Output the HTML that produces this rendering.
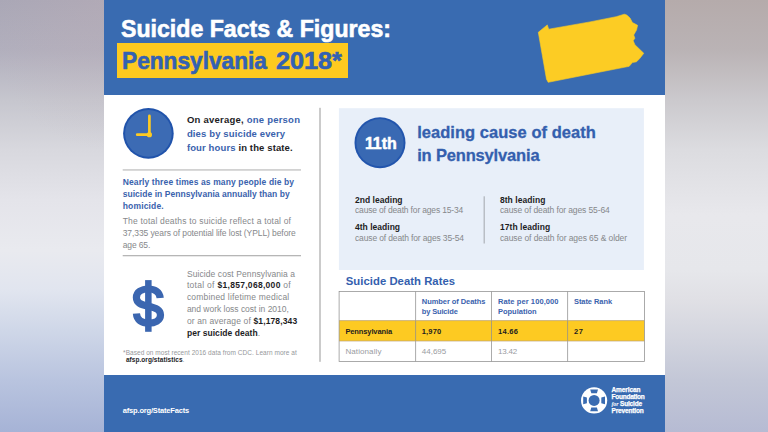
<!DOCTYPE html>
<html><head><meta charset="utf-8">
<style>
*{margin:0;padding:0;box-sizing:border-box}
html,body{width:768px;height:432px;overflow:hidden}
body{font-family:"Liberation Sans",sans-serif;position:relative;background:#dcdde2}
.bgl{position:absolute;left:0;top:0;width:104px;height:432px;background:radial-gradient(ellipse 120px 150px at 100% 0%,rgba(196,176,182,.30),rgba(196,176,182,0) 100%),linear-gradient(180deg,#a9a7b6 0.0px,#b1afbd 50.0px,#c6c6ce 100.0px,#d8d8de 150.0px,#e4e4ea 200.0px,#e9eaef 250.0px,#e1e5ef 290.0px,#cfd7e8 330.0px,#b9c4df 380.0px,#a6b3d6 432.0px)}
.bgr{position:absolute;left:665px;top:0;width:103px;height:432px;background:linear-gradient(180deg,#b5abab 0.0px,#bab3b5 50.0px,#cbc9cd 100.0px,#dcdce0 150.0px,#e8e8ec 215.0px,#e6e7eb 270.0px,#e0e0e5 300.0px,#d2d4de 340.0px,#c3c7d7 380.0px,#b6bbd3 432.0px)}
.panel{position:absolute;left:104px;top:0;width:561px;height:432px;background:#fff}
.hdr{position:absolute;left:0;top:0;width:561px;height:94.5px;background:#396bb1}
.ftr{position:absolute;left:0;top:374.7px;width:561px;height:57.3px;background:#396bb1}
.abs{position:absolute;white-space:nowrap}
.t{position:absolute;white-space:nowrap;line-height:1}
b{font-weight:700}
</style></head><body>
<div class="bgl"></div><div class="bgr"></div>
<div class="panel">
 <div class="hdr"></div>
 <div class="ftr"></div>
</div>
<!-- header text -->
<div class="abs" id="t1" style="left:121px;top:14.5px;font-size:24px;font-weight:700;color:#fff;-webkit-text-stroke:0.6px #fff;line-height:28px;transform:scaleX(.964);transform-origin:0 0">Suicide Facts &amp; Figures:</div>
<div class="abs" style="left:116.9px;top:43.2px;width:231.5px;height:34.4px;background:#fdca20"></div>
<div class="abs" id="t2" style="left:121.9px;top:46.7px;font-size:24px;font-weight:700;color:#3361b3;-webkit-text-stroke:0.6px #3361b3;line-height:28px;transform:scaleX(.945);transform-origin:0 0">Pennsylvania</div>
<div class="abs" id="t3" style="left:275.6px;top:46.7px;font-size:24px;font-weight:700;color:#3361b3;-webkit-text-stroke:0.6px #3361b3;line-height:28px;transform:scaleX(1.05);transform-origin:0 0">2018*</div>
<svg class="abs" style="left:0;top:0" width="768" height="432">
 <!-- PA -->
 <polygon fill="#fccc24" points="538.3,32.3 547.3,24.9 548.7,29.2 590,21.9 616.2,16.7 624.3,14.2 626.8,15.1 630,18 632.4,22.5 637.6,25.3 636.5,30.1 633.7,35 634.9,38.2 633.2,40.7 634.9,44.7 643.8,53.3 639.7,58.5 636.5,61.8 632.4,62.6 629.2,66.3 590,74 548.2,82.3 546.5,79.2" stroke="#fccc24" stroke-width="0.6" stroke-linejoin="round"/>
 <!-- clock -->
 <circle cx="148.4" cy="133.4" r="25.3" fill="#2053ab"/>
 <circle cx="148.4" cy="133.4" r="23.3" fill="#3c6bb4"/>
 <path d="M149.4 115.9V134.7H137.2" fill="none" stroke="#fdca22" stroke-width="2.7" stroke-linecap="round" stroke-linejoin="round"/>
 <circle cx="149.4" cy="134.7" r="2.6" fill="#fdca22"/>
 <!-- dividers -->
 <rect x="122.7" y="169" width="178.3" height="1.8" fill="#d2d2d2"/>
 <rect x="122.7" y="255" width="178.3" height="1.3" fill="#b6b6b6"/>
 <rect x="319" y="107.8" width="2" height="254" fill="#cbcbcb"/>
 <!-- blue box -->
 <rect x="338.9" y="108.2" width="305" height="161.8" fill="#e8eff9"/>
 <circle cx="380" cy="142.7" r="25.5" fill="#2255ad"/><circle cx="380" cy="142.7" r="23.6" fill="#3969b3"/>
 <rect x="483.7" y="196.3" width="0.9" height="47.2" fill="#9a9da3"/>
 <!-- table -->
 <rect x="339.1" y="320.5" width="305.3" height="20.5" fill="#fdca22"/>
 <g fill="none" stroke="#8f8f8f" stroke-width="0.75">
  <rect x="339.1" y="291.6" width="305.3" height="69.8"/>
  <path d="M415.6 291.6V361.4M491.5 291.6V361.4M567.6 291.6V361.4"/><path d="M339.1 320.6H644.4M339.1 341H644.4" stroke="#b9a27a" stroke-width="0.7"/>
 </g>
 <!-- dollar -->
 <rect x="145.1" y="280.1" width="6.5" height="51.7" fill="#3b66b0"/>
 <path d="M160.2 298 C159.6 291.8 154.6 289 148.4 289 C141.5 289 136.4 292.3 136.4 297.6 C136.4 303 141 304.6 148.4 306.2 C156 307.9 160.5 309.6 160.5 315 C160.5 320.5 155 323.2 148.4 323.2 C141.8 323.2 136.9 320.3 136.4 313.6" fill="none" stroke="#3b66b0" stroke-width="7.2"/>
 <!-- logo -->
 <circle cx="594.1" cy="400.4" r="13.1" fill="#fff"/>
 <circle cx="594.1" cy="400.4" r="5.5" fill="#396bb1"/>
 <g fill="#396bb1" transform="translate(594.1 400.4)">
  <path d="M-3.9 -10.9H3.9L2.8 -7.2H-2.8Z" transform="rotate(0)"/>
  <path d="M-3.9 -10.9H3.9L2.8 -7.2H-2.8Z" transform="rotate(90)"/>
  <path d="M-3.9 -10.9H3.9L2.8 -7.2H-2.8Z" transform="rotate(180)"/>
  <path d="M-3.9 -10.9H3.9L2.8 -7.2H-2.8Z" transform="rotate(270)"/>
 </g>
</svg>
<div class="t" id="l0" style="left:186.90px;top:115.46px;font-size:9.5px;font-weight:700;color:#1d1d1f;letter-spacing:0.230px">On average, <span style="color:#3a62ad">one person</span></div>
<div class="t" id="l1" style="left:186.90px;top:129.36px;font-size:9.5px;font-weight:700;color:#3a62ad;letter-spacing:0.134px">dies by suicide every</div>
<div class="t" id="l2" style="left:186.90px;top:143.26px;font-size:9.5px;font-weight:700;color:#3a62ad;letter-spacing:0.123px">four hours <span style="color:#1d1d1f">in the state.</span></div>
<div class="t" id="l3" style="left:122.70px;top:178.00px;font-size:8.5px;font-weight:700;color:#3a62ad;letter-spacing:0.118px">Nearly three times as many people die by</div>
<div class="t" id="l4" style="left:122.70px;top:190.10px;font-size:8.5px;font-weight:700;color:#3a62ad;letter-spacing:0.042px">suicide in Pennsylvania annually than by</div>
<div class="t" id="l5" style="left:122.70px;top:201.70px;font-size:8.5px;font-weight:700;color:#3a62ad;letter-spacing:0.168px">homicide.</div>
<div class="t" id="l6" style="left:122.70px;top:216.80px;font-size:8.5px;font-weight:400;color:#86888b;letter-spacing:0.191px">The total deaths to suicide reflect a total of</div>
<div class="t" id="l7" style="left:122.70px;top:228.70px;font-size:8.5px;font-weight:400;color:#86888b;letter-spacing:-0.086px">37,335 years of potential life lost (YPLL) before</div>
<div class="t" id="l8" style="left:122.70px;top:240.50px;font-size:8.5px;font-weight:400;color:#86888b;letter-spacing:-0.125px">age 65.</div>
<div class="t" id="l9" style="left:186.90px;top:269.60px;font-size:8.5px;font-weight:400;color:#86888b;letter-spacing:0.091px">Suicide cost Pennsylvania a</div>
<div class="t" id="l10" style="left:186.90px;top:281.30px;font-size:8.5px;font-weight:400;color:#86888b;letter-spacing:0.295px">total of <b style="color:#1d1d1f">$1,857,068,000</b> of</div>
<div class="t" id="l11" style="left:186.90px;top:293.10px;font-size:8.5px;font-weight:400;color:#86888b;letter-spacing:0.188px">combined lifetime medical</div>
<div class="t" id="l12" style="left:186.90px;top:305.20px;font-size:8.5px;font-weight:400;color:#86888b;letter-spacing:-0.023px">and work loss cost in 2010,</div>
<div class="t" id="l13" style="left:186.90px;top:317.10px;font-size:8.5px;font-weight:400;color:#86888b;letter-spacing:0.133px">or an average of <b style="color:#1d1d1f">$1,178,343</b></div>
<div class="t" id="l14" style="left:186.90px;top:328.90px;font-size:8.5px;font-weight:700;color:#1d1d1f;letter-spacing:0.050px">per suicide death<span style="font-weight:400;color:#86888b">.</span></div>
<div class="t" id="l15" style="left:123.10px;top:350.30px;font-size:6.5px;font-weight:400;color:#96989b;letter-spacing:0.044px">*Based on most recent 2016 data from CDC. Learn more at</div>
<div class="t" id="l16" style="left:125.90px;top:357.40px;font-size:6.5px;font-weight:700;color:#1d1d1f;letter-spacing:0.057px">afsp.org/statistics<span style="font-weight:400;color:#86888b">.</span></div>
<div class="t" id="l17" style="left:364.90px;top:135.56px;font-size:16px;font-weight:700;color:#fff;letter-spacing:-0.054px"><span style="-webkit-text-stroke:0.5px #fff">11th</span></div>
<div class="t" id="l18" style="left:417.20px;top:123.53px;font-size:16.5px;font-weight:700;color:#345fae;letter-spacing:0.037px"><span style="-webkit-text-stroke:.3px #345fae">leading cause of death</span></div>
<div class="t" id="l19" style="left:417.20px;top:147.13px;font-size:16.5px;font-weight:700;color:#345fae;letter-spacing:-0.168px"><span style="-webkit-text-stroke:.3px #345fae">in Pennsylvania</span></div>
<div class="t" id="l20" style="left:355.00px;top:195.70px;font-size:8.5px;font-weight:700;color:#1d1d1f;letter-spacing:0.033px">2nd leading</div>
<div class="t" id="l21" style="left:355.00px;top:206.20px;font-size:8.5px;font-weight:400;color:#86888b;letter-spacing:-0.167px">cause of death for ages 15-34</div>
<div class="t" id="l22" style="left:355.00px;top:222.70px;font-size:8.5px;font-weight:700;color:#1d1d1f;letter-spacing:0.020px">4th leading</div>
<div class="t" id="l23" style="left:355.00px;top:233.60px;font-size:8.5px;font-weight:400;color:#86888b;letter-spacing:-0.140px">cause of death for ages 35-54</div>
<div class="t" id="l24" style="left:499.90px;top:195.70px;font-size:8.5px;font-weight:700;color:#1d1d1f;letter-spacing:0.066px">8th leading</div>
<div class="t" id="l25" style="left:499.90px;top:206.20px;font-size:8.5px;font-weight:400;color:#86888b;letter-spacing:-0.109px">cause of death for ages 55-64</div>
<div class="t" id="l26" style="left:499.90px;top:222.70px;font-size:8.5px;font-weight:700;color:#1d1d1f;letter-spacing:0.067px">17th leading</div>
<div class="t" id="l27" style="left:499.90px;top:233.60px;font-size:8.5px;font-weight:400;color:#86888b;letter-spacing:-0.084px">cause of death for ages 65 &amp; older</div>
<div class="t" id="l28" style="left:345.80px;top:275.83px;font-size:11.3px;font-weight:700;color:#345fae;letter-spacing:0.036px">Suicide Death Rates</div>
<div class="t" id="l29" style="left:421.80px;top:297.75px;font-size:7.5px;font-weight:700;color:#3a62ad;letter-spacing:-0.068px">Number of Deaths</div>
<div class="t" id="l30" style="left:421.80px;top:307.95px;font-size:7.5px;font-weight:700;color:#3a62ad;letter-spacing:-0.162px">by Suicide</div>
<div class="t" id="l31" style="left:498.00px;top:297.75px;font-size:7.5px;font-weight:700;color:#3a62ad;letter-spacing:0.086px">Rate per 100,000</div>
<div class="t" id="l32" style="left:498.00px;top:307.95px;font-size:7.5px;font-weight:700;color:#3a62ad;letter-spacing:-0.015px">Population</div>
<div class="t" id="l33" style="left:574.00px;top:297.75px;font-size:7.5px;font-weight:700;color:#3a62ad;letter-spacing:-0.077px">State Rank</div>
<div class="t" id="l34" style="left:345.40px;top:327.75px;font-size:7.5px;font-weight:700;color:#1d1d1f;letter-spacing:-0.113px">Pennsylvania</div>
<div class="t" id="l35" style="left:421.80px;top:327.75px;font-size:7.5px;font-weight:700;color:#1d1d1f;letter-spacing:0.144px">1,970</div>
<div class="t" id="l36" style="left:498.00px;top:327.75px;font-size:7.5px;font-weight:700;color:#1d1d1f;letter-spacing:0.284px">14.66</div>
<div class="t" id="l37" style="left:574.00px;top:327.75px;font-size:7.5px;font-weight:700;color:#1d1d1f;letter-spacing:0.478px">27</div>
<div class="t" id="l38" style="left:345.40px;top:347.53px;font-size:8px;font-weight:400;color:#9a9c9f;letter-spacing:0.096px">Nationally</div>
<div class="t" id="l39" style="left:421.80px;top:347.53px;font-size:8px;font-weight:400;color:#9a9c9f;letter-spacing:-0.011px">44,695</div>
<div class="t" id="l40" style="left:498.00px;top:347.53px;font-size:8px;font-weight:400;color:#9a9c9f;letter-spacing:-0.186px">13.42</div>
<div class="t" id="l41" style="left:122.80px;top:406.75px;font-size:7.5px;font-weight:700;color:#fff;letter-spacing:-0.179px">afsp.org/StateFacts</div>
<div class="t" id="l42" style="left:611.50px;top:387.30px;font-size:6.5px;font-weight:700;color:#fff;letter-spacing:-0.091px"><span style="-webkit-text-stroke:.25px #fff">American</span></div>
<div class="t" id="l43" style="left:611.50px;top:393.90px;font-size:6.5px;font-weight:700;color:#fff;letter-spacing:-0.239px"><span style="-webkit-text-stroke:.25px #fff">Foundation</span></div>
<div class="t" id="l44" style="left:611.50px;top:401.30px;font-size:6.5px;font-weight:700;color:#fff;letter-spacing:-0.171px"><i style="font-family:'Liberation Serif',serif;font-size:6px">for</i> <span style="-webkit-text-stroke:.25px #fff">Suicide</span></div>
<div class="t" id="l45" style="left:611.50px;top:407.90px;font-size:6.5px;font-weight:700;color:#fff;letter-spacing:-0.149px"><span style="-webkit-text-stroke:.25px #fff">Prevention</span></div>
</body></html>
